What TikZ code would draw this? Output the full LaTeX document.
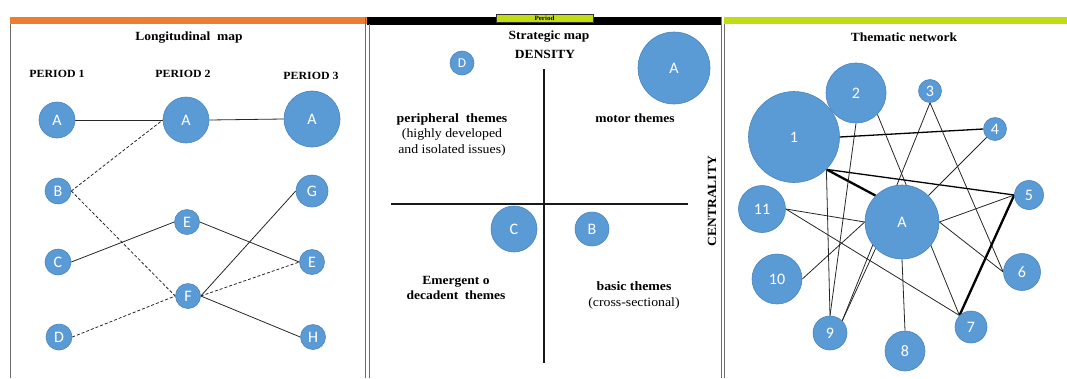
\documentclass[tikz,border=0pt]{standalone}
\usepackage{fontspec}
\setmainfont{Liberation Serif}[FakeStretch=1.08]
\newfontfamily\labfont{Carlito}
\definecolor{bubble}{HTML}{5B9BD5}
\definecolor{bubbleedge}{HTML}{4A84BC}
\definecolor{barorange}{HTML}{ED7D31}
\definecolor{barlime}{HTML}{C2DC14}
\definecolor{framegrey}{HTML}{6E6E6E}
\pgfdeclarelayer{back}
\pgfsetlayers{back,main}
\tikzset{
  bub/.style={circle, fill=bubble, draw=bubbleedge, line width=0.6pt, text=white,
    inner sep=0pt, minimum size=#1pt, font=\labfont\fontsize{16}{16}\selectfont},
  link/.style={draw=black!85, line width=0.8pt},
  dlink/.style={link, dash pattern=on 3pt off 2pt},
  midlink/.style={draw=black, line width=1.3pt},
  heavylink/.style={draw=black, line width=2.3pt},
  ttl/.style={font=\bfseries\fontsize{12.5}{15}\selectfont, inner sep=0pt},
  period/.style={font=\bfseries\fontsize{11}{13}\selectfont, inner sep=0pt},
  note/.style={font=\fontsize{12.8}{15.5}\selectfont, inner sep=0pt, align=center},
  frame/.style={draw=framegrey, line width=0.8pt},
}
\begin{document}
\begin{tikzpicture}[x=1pt, y=-1pt]
\useasboundingbox (0,0) rectangle (1067,378);

% header bars
\fill[barorange] (10,17) rectangle (367,24);
\fill[black] (367,17) rectangle (722,25);
\fill[barlime] (724,17) rectangle (1067,24);
\node[draw=black!80, fill=barlime, line width=0.6pt, minimum width=97pt, minimum height=8.5pt,
  inner sep=0pt, font=\bfseries\fontsize{6.5}{7}\selectfont] (periodtag) at (544.5,18.3) {Period};

% panel frames
\draw[frame] (10,24) -- (10,378);
\draw[frame] (365.7,17) -- (365.7,378);
\draw[frame] (369,24) -- (369,378);
\draw[frame] (721.7,17) -- (721.7,378);
\draw[frame] (724.3,24) -- (724.3,378);

% ---------------- longitudinal map ----------------
\node[ttl] (ltitle) at (189,38) {Longitudinal\ \ map};
\node[period] (p1) at (57,74) {PERIOD 1};
\node[period] (p2) at (183,74) {PERIOD 2};
\node[period] (p3) at (311,76) {PERIOD 3};

\node[bub=36] (la1) at (57,120) {A};
\node[bub=46] (la2) at (186,120) {A};
\node[bub=56] (la3) at (312,119) {A};
\node[bub=26] (lb) at (58,191) {B};
\node[bub=32] (lg) at (312,191) {G};
\node[bub=25] (le2) at (187,222) {E};
\node[bub=26] (lc) at (58,262) {C};
\node[bub=25] (le3) at (312,262) {E};
\node[bub=25] (lf) at (188,296) {F};
\node[bub=26] (ld) at (59,337) {D};
\node[bub=25] (lh) at (313,337) {H};

\begin{pgfonlayer}{back}
\draw[link] (la1.east) -- (la2.west);
\draw[link] (la2.east) -- (la3.west);
\draw[dlink] (lb.east) -- (la2.west);
\draw[dlink] (lb.east) -- (lf.west);
\draw[link] (lc.east) -- (le2.west);
\draw[link] (le2.east) -- (le3.west);
\draw[link] (lg.west) -- (lf.east);
\draw[dlink] (lf.east) -- (le3.west);
\draw[dlink] (ld.east) -- (lf.west);
\draw[link] (lf.east) -- (lh.west);
\end{pgfonlayer}

% ---------------- strategic map ----------------
\node[ttl] (stitle) at (549,37) {Strategic map};
\node[ttl] (density) at (545,54) {DENSITY};
\node[ttl, rotate=90] (centrality) at (712,201) {CENTRALITY};

\coordinate (vtop) at (544,69);
\coordinate (vbot) at (544,363);
\coordinate (hleft) at (391,204);
\coordinate (hright) at (688,204);
\draw[line width=1.4pt, black!90] (vtop) -- (vbot);
\draw[line width=1.4pt, black!90] (hleft) -- (hright);

\node[bub=24, font=\labfont\fontsize{13.5}{13.5}\selectfont] (sd) at (462,63) {D};
\node[bub=72] (sa) at (674,68) {A};
\node[bub=46] (sc) at (514,229) {C};
\node[bub=34] (sb) at (592,229) {B};

\node[note] (periph) at (452,134.5) {\bfseries peripheral\ \ themes\\(highly developed\\and isolated issues)};
\node[ttl] (motor) at (635,118) {motor themes};
\node[ttl, align=center] (emerg) at (456,288) {Emergent o\\decadent\ \ themes};
\node[note] (basic) at (634,295.5) {\bfseries basic themes\\(cross-sectional)};

% ---------------- thematic network ----------------
\node[ttl] (ttitle) at (904,37) {Thematic network};

\node[bub=91] (t1) at (794,137) {1};
\node[bub=60] (t2) at (856,93) {2};
\node[bub=23] (t3) at (930,91) {3};
\node[bub=23] (t4) at (995,129) {4};
\node[bub=29] (t5) at (1029,195) {5};
\node[bub=74] (ta) at (902,222) {A};
\node[bub=47] (t11) at (762,209) {11};
\node[bub=50] (t10) at (777,279) {10};
\node[bub=37] (t6) at (1022,272) {6};
\node[bub=34] (t9) at (830,333) {9};
\node[bub=40] (t8) at (905,351) {8};
\node[bub=32] (t7) at (971,327) {7};

\begin{pgfonlayer}{back}
\draw[midlink] (t1.east) -- (t4.west);
\draw[midlink] (t1.south east) -- (t5.west);
\draw[heavylink] (t1.south east) -- (ta.north west);
\draw[link] (t1.south east) -- (t9.north);
\draw[link] (t2.south) -- (t9.north);
\draw[link] (t2.south east) -- (t7.north west);
\draw[link] (t3.south) -- (t9.north east);
\draw[link] (t3.south) -- (t6.west);
\draw[link] (t4.south west) -- (ta.north east);
\draw[link] (ta.east) -- (t5.west);
\draw[heavylink] (t5.west) -- (t7.north west);
\draw[link] (ta.east) -- (t6.west);
\draw[link] (ta.south) -- (t8.north);
\draw[link] (t11.east) -- (ta.west);
\draw[link] (t10.east) -- (ta.west);
\draw[link] (t11.east) -- (t7.north west);
\draw[link] (ta.south west) -- (t9.north east);
\end{pgfonlayer}
\end{tikzpicture}
\end{document}
